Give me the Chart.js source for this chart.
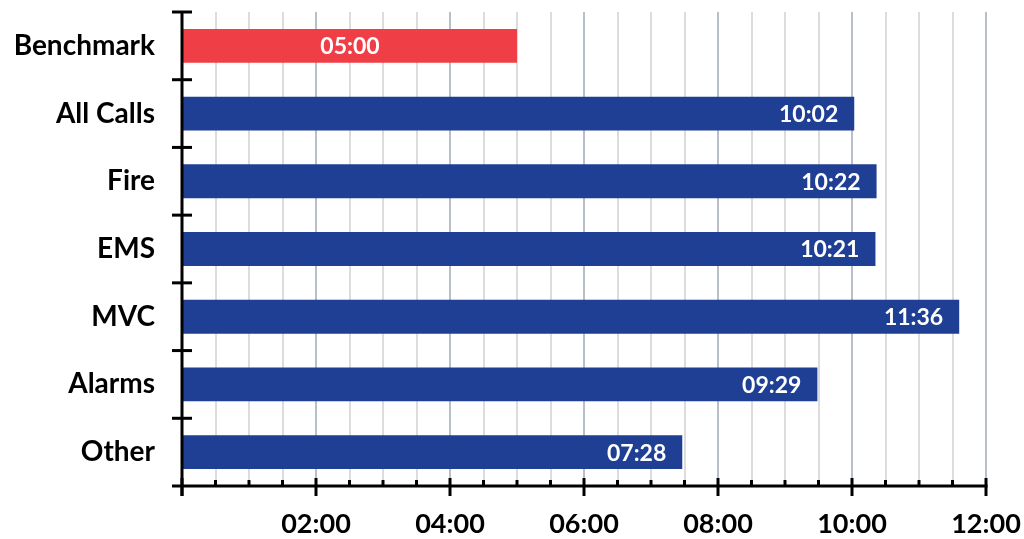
<!DOCTYPE html>
<html>
<head>
<meta charset="utf-8">
<script src="https://cdn.jsdelivr.net/npm/chart.js@4"></script>
<style>
  html, body { margin: 0; padding: 0; background: #fff; }
  #wrap { width: 1024px; height: 539px; }
</style>
</head>
<body>
<div id="wrap"><canvas id="barChart"></canvas></div>
<script>
const categories = ['Benchmark', 'All Calls', 'Fire', 'EMS', 'MVC', 'Alarms', 'Other'];
// response times in seconds
const times = [300, 602, 622, 621, 696, 569, 448];
const barColors = ['#ef3e45', '#1f3f94', '#1f3f94', '#1f3f94', '#1f3f94', '#1f3f94', '#1f3f94'];
const xMax = 720;
const xStep = 30;
const majorStep = 120;

const FONT = 'Lato, "Open Sans", sans-serif';

function mmss(s) {
    const m = Math.floor(s / 60), r = Math.round(s % 60);
    return String(m).padStart(2, '0') + ':' + String(r).padStart(2, '0');
}

// axis lines, tick marks and bar labels
const axisPlugin = {
    id: 'axisPlugin',
    afterDatasetsDraw(chart) {
        const ctx = chart.ctx;
        const xs = chart.scales.x, ys = chart.scales.y;
        const area = chart.chartArea;
        ctx.save();
        ctx.strokeStyle = '#000';
        ctx.lineWidth = 3;
        ctx.lineCap = 'butt';
        // x axis
        ctx.beginPath();
        ctx.moveTo(area.left - 10, area.bottom);
        ctx.lineTo(xs.getPixelForValue(xMax) + 1.5, area.bottom);
        ctx.stroke();
        // y axis
        ctx.beginPath();
        ctx.moveTo(area.left, area.top);
        ctx.lineTo(area.left, area.bottom + 10);
        ctx.stroke();
        // x ticks
        for (let v = 0; v <= xMax; v += xStep) {
            const px = xs.getPixelForValue(v);
            ctx.beginPath();
            if (v % majorStep === 0) {
                ctx.moveTo(px, area.bottom - 8);
                ctx.lineTo(px, area.bottom + 10);
            } else {
                ctx.moveTo(px, area.bottom - 6);
                ctx.lineTo(px, area.bottom);
            }
            ctx.stroke();
        }
        // y ticks at category boundaries
        const n = categories.length;
        const h = (area.bottom - area.top) / n;
        for (let i = 0; i < n; i++) {
            const py = ys.getPixelForValue(i) - h / 2;
            ctx.beginPath();
            ctx.moveTo(area.left - 10, py);
            ctx.lineTo(area.left + 10, py);
            ctx.stroke();
        }
        // bar labels
        const meta = chart.getDatasetMeta(0);
        ctx.fillStyle = '#fff';
        ctx.font = 'bold 23px ' + FONT;
        ctx.textBaseline = 'middle';
        meta.data.forEach((bar, i) => {
            const label = mmss(times[i]);
            if (i === 0) {
                ctx.textAlign = 'center';
                ctx.fillText(label, (bar.base + bar.x) / 2, bar.y + 1);
            } else {
                ctx.textAlign = 'right';
                ctx.fillText(label, bar.x - 16, bar.y + 1);
            }
        });
        ctx.restore();
    }
};

new Chart(document.getElementById('barChart'), {
    type: 'bar',
    data: {
        labels: categories,
        datasets: [{
            data: times,
            backgroundColor: barColors,
            borderWidth: 0,
            barPercentage: 0.5,
            categoryPercentage: 1.0
        }]
    },
    options: {
        indexAxis: 'y',
        responsive: true,
        maintainAspectRatio: false,
        animation: false,
        layout: { padding: { top: 12, right: 38, left: 0, bottom: 0 } },
        plugins: { legend: { display: false }, tooltip: { enabled: false } },
        scales: {
            x: {
                min: 0,
                max: xMax,
                afterFit(scale) {
                    scale.height = 53;
                    scale.paddingLeft = 0;
                    scale.paddingRight = 0;
                },
                border: { display: false },
                grid: {
                    drawTicks: false,
                    lineWidth: 2,
                    color: ctx => (ctx.tick && ctx.tick.value % majorStep === 0) ? '#b8bfc6' : '#dcdcdc'
                },
                ticks: {
                    stepSize: xStep,
                    autoSkip: false,
                    maxRotation: 0,
                    padding: 22,
                    color: '#000',
                    font: { family: FONT, size: 27, weight: 'bold' },
                    callback: v => (v % majorStep === 0 && v > 0) ? mmss(v) : ''
                }
            },
            y: {
                afterFit(scale) {
                    scale.width = 182;
                    scale.paddingTop = 0;
                    scale.paddingBottom = 0;
                },
                border: { display: false },
                grid: { display: false, drawTicks: false },
                ticks: {
                    padding: 27,
                    color: '#000',
                    font: { family: FONT, size: 28, weight: 'bold' }
                }
            }
        }
    },
    plugins: [axisPlugin]
});
</script>
</body>
</html>
